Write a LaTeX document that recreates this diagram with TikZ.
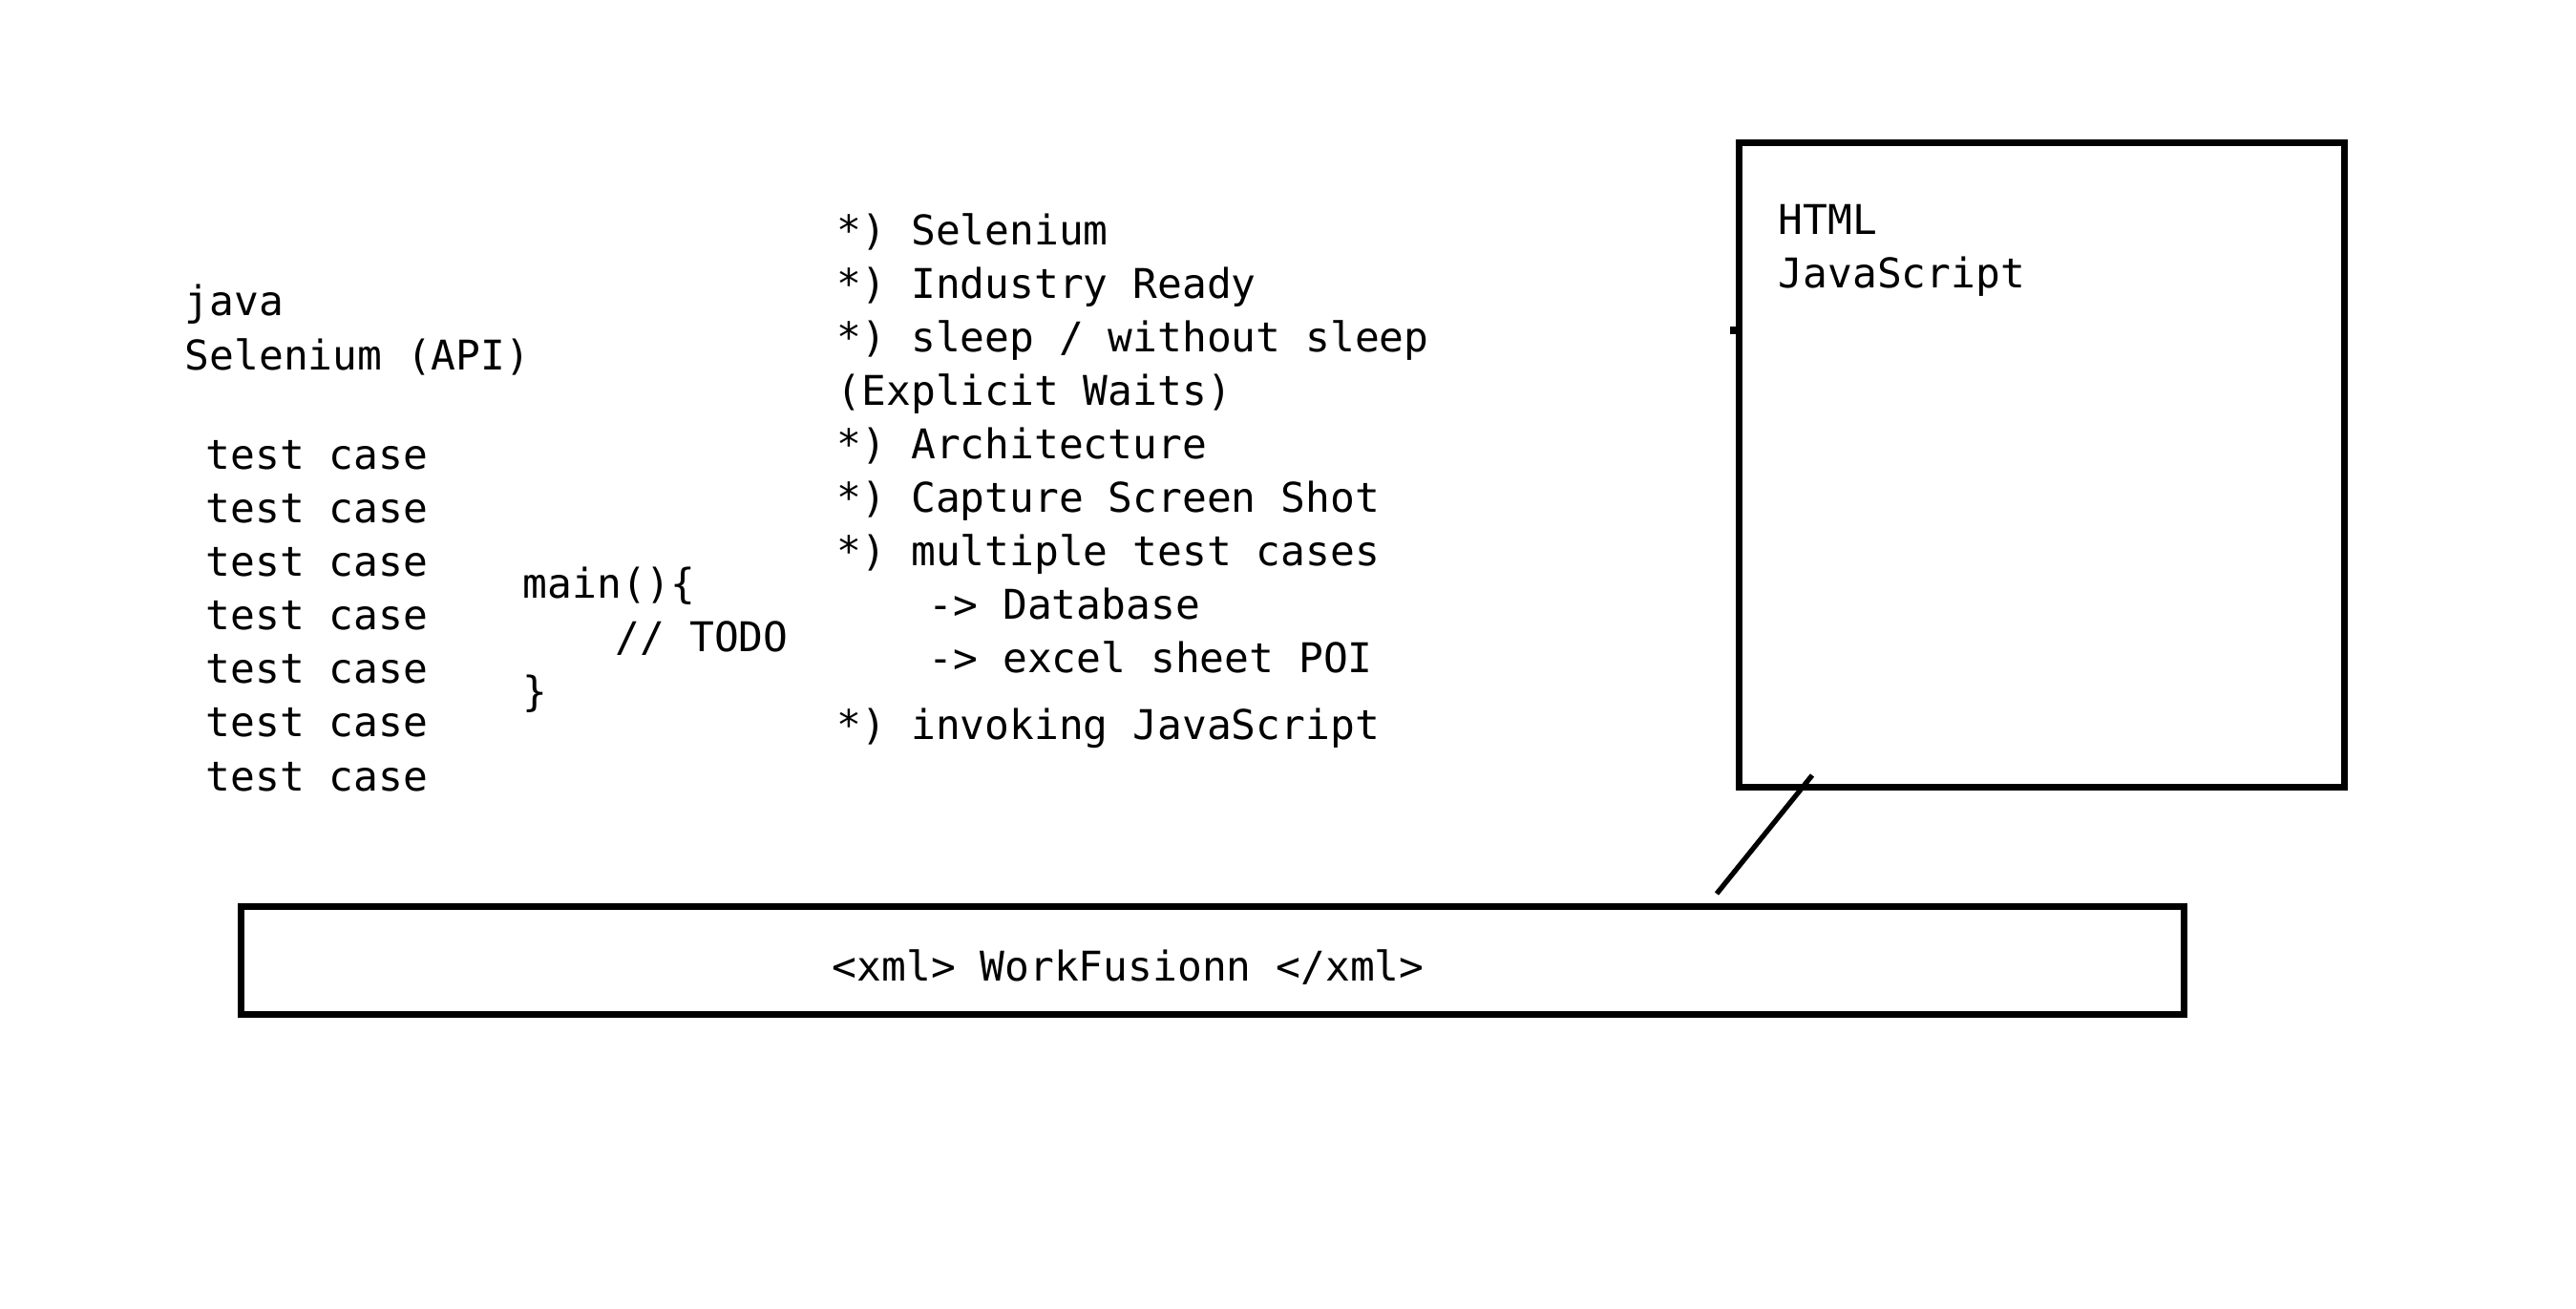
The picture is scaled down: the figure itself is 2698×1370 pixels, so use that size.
\documentclass[tikz,border=0pt]{standalone}
\usepackage{fontspec}
\setmainfont{DejaVu Sans Mono}
\usetikzlibrary{positioning}

\begin{document}
\begin{tikzpicture}[x=.01cm, y=-.01cm, font=\fontsize{12.2pt}{15.94pt}\selectfont]
\tikzset{txt/.style={anchor=base west, align=left, inner sep=0pt},
         boxline/.style={draw, line width=2pt, inner sep=0pt}}
\useasboundingbox (0,0) rectangle (2698,1370);

\node[boxline, minimum width=6.33cm, minimum height=6.74cm] (htmlbox) at (2138.5,487) {};
\node[boxline, minimum width=20.34cm, minimum height=1.12cm] (xmlbox) at (1270,1006) {};

% base anchor = baseline of the last line
\node[txt] (lang) at (193,387) {java\\Selenium (API)};
\node[txt] (cases) at (215,828) {test case\\test case\\test case\\test case\\test case\\test case\\test case};
\node[txt] (mainfn) at (547,739) {main()\{\\\hspace*{0.97cm}// TODO\\\}};
\node[txt] (topics) at (876,774) {*) Selenium\\*) Industry Ready\\*) sleep / without sleep\\(Explicit Waits)\\*) Architecture\\*) Capture Screen Shot\\*) multiple test cases\\\hspace*{0.96cm}-> Database\\\hspace*{0.96cm}-> excel sheet POI\\[0.13cm]*) invoking JavaScript};
\node[txt] (web) at (1862,302) {HTML\\JavaScript};
\node[txt] (xml) at (871,1027) {<xml> WorkFusionn </xml>};

\coordinate (tick) at (1812,346);
\coordinate (lnktop) at (1898,812);
\coordinate (lnkbot) at (1798,936);
\draw[line width=2pt] (tick) -- (htmlbox.west |- tick);
\draw[line width=1.5pt] (lnktop) -- (lnkbot);

\end{tikzpicture}
\end{document}
